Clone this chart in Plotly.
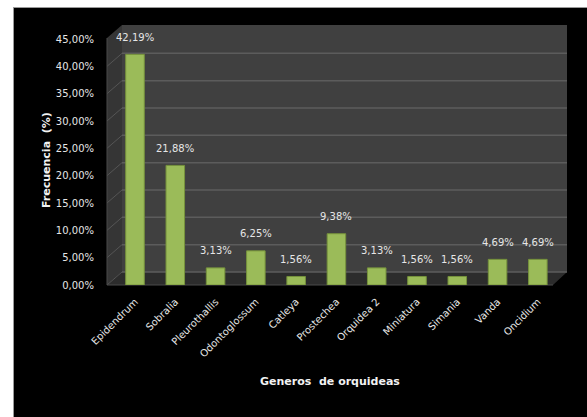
import plotly.graph_objects as go

categories = ["Epidendrum", "Sobralia", "Pleurothallis", "Odontoglossum", "Catleya",
              "Prostechea", "Orquidea 2", "Miniatura", "Simania", "Vanda", "Oncidium"]
values = [42.19, 21.88, 3.13, 6.25, 1.56, 9.38, 3.13, 1.56, 1.56, 4.69, 4.69]
y_ticks = [0, 5, 10, 15, 20, 25, 30, 35, 40, 45]

W, H = 587, 417
L, R, T, B = 114, 558, 39, 285
PW, PH = R - L, B - T
YMAX = 45

def px_x(x):
    return (x - L) / PW

def px_y(y):
    return (B - y) / PH

off = 13 * YMAX / PH  # depth offset in data units

fig = go.Figure()
fig.add_trace(go.Bar(
    x=categories, y=values, width=0.46,
    marker=dict(color="#9bbb59", line=dict(color="#76923c", width=1)),
    hoverinfo="x+y",
))

shapes = []
# white frame at top and left
shapes.append(dict(type="rect", xref="paper", yref="paper", x0=px_x(0), x1=px_x(13),
                   y0=px_y(H), y1=px_y(0), fillcolor="white", line=dict(width=0), layer="below"))
shapes.append(dict(type="rect", xref="paper", yref="paper", x0=px_x(0), x1=px_x(W),
                   y0=px_y(7), y1=px_y(0), fillcolor="white", line=dict(width=0), layer="below"))
shapes.append(dict(type="line", xref="paper", yref="paper", x0=px_x(13.5), x1=px_x(13.5),
                   y0=px_y(H), y1=px_y(7), line=dict(color="#9a9a9a", width=1), layer="below"))
shapes.append(dict(type="line", xref="paper", yref="paper", x0=px_x(13), x1=px_x(W),
                   y0=px_y(7.5), y1=px_y(7.5), line=dict(color="#9a9a9a", width=1), layer="below"))
# back wall
shapes.append(dict(type="rect", xref="paper", yref="paper", x0=px_x(122), x1=px_x(567),
                   y0=px_y(272), y1=px_y(25), fillcolor="#404040", line=dict(width=0), layer="below"))
# side wall
shapes.append(dict(type="path", xref="paper", yref="paper",
                   path=f"M {px_x(107)} {px_y(285)} L {px_x(107)} {px_y(38)} L {px_x(122)} {px_y(25)} L {px_x(122)} {px_y(272)} Z",
                   fillcolor="#353535", line=dict(width=0), layer="below"))
# floor
shapes.append(dict(type="path", xref="paper", yref="paper",
                   path=f"M {px_x(107)} {px_y(285)} L {px_x(122)} {px_y(272)} L {px_x(567)} {px_y(272)} L {px_x(553)} {px_y(285)} Z",
                   fillcolor="#2c2c2c", line=dict(width=0), layer="below"))
# gridlines on back wall and side wall
for v in y_ticks:
    shapes.append(dict(type="line", xref="paper", yref="y", x0=px_x(122), x1=px_x(567),
                       y0=v + off, y1=v + off, line=dict(color="#5c5c5c", width=1.5), layer="below"))
    shapes.append(dict(type="line", xref="paper", yref="y", x0=px_x(107), x1=px_x(122),
                       y0=v, y1=v + off, line=dict(color="#555555", width=1), layer="below"))
# front-left edge
shapes.append(dict(type="line", xref="paper", yref="paper", x0=px_x(107), x1=px_x(107),
                   y0=px_y(285), y1=px_y(38), line=dict(color="#4a4a4a", width=1), layer="below"))
shapes.append(dict(type="line", xref="paper", yref="paper", x0=px_x(107), x1=px_x(553),
                   y0=px_y(285), y1=px_y(285), line=dict(color="#4a4a4a", width=1), layer="below"))

annotations = []
for c, v in zip(categories, values):
    annotations.append(dict(x=c, y=v, xref="x", yref="y", text=f"{v:.2f}%".replace(".", ","),
                            showarrow=False, yshift=17,
                            font=dict(family="DejaVu Sans", size=10, color="#e6e6e6")))
annotations.append(dict(xref="paper", yref="paper", x=px_x(46), y=px_y(160),
                        xanchor="center", yanchor="middle",
                        text="<b>Frecuencia  (%)</b>", textangle=-90, showarrow=False,
                        font=dict(family="DejaVu Sans", size=11, color="#f2f2f2")))
annotations.append(dict(xref="paper", yref="paper", x=px_x(330), y=px_y(381),
                        xanchor="center", yanchor="middle",
                        text="<b>Generos  de orquideas</b>", showarrow=False,
                        font=dict(family="DejaVu Sans", size=11, color="#f2f2f2")))

fig.update_layout(
    width=W, height=H,
    margin=dict(l=L, r=W - R, t=T, b=H - B),
    paper_bgcolor="black", plot_bgcolor="rgba(0,0,0,0)",
    separators=", ",
    showlegend=False,
    shapes=shapes, annotations=annotations,
    bargap=0.54,
    xaxis=dict(tickangle=-45, showgrid=False, zeroline=False, showline=False,
               tickfont=dict(family="DejaVu Sans", size=10, color="#e6e6e6"),
               ticks="outside", ticklen=6, tickcolor="rgba(0,0,0,0)"),
    yaxis=dict(range=[0, YMAX], tickvals=y_ticks,
               ticktext=[f"{t:.2f}%".replace(".", ",") for t in y_ticks],
               showgrid=False, zeroline=False, showline=False,
               tickfont=dict(family="DejaVu Sans", size=10, color="#e6e6e6"),
               ticks="outside", ticklen=17, tickcolor="rgba(0,0,0,0)"),
)

fig.write_html("out.html")
